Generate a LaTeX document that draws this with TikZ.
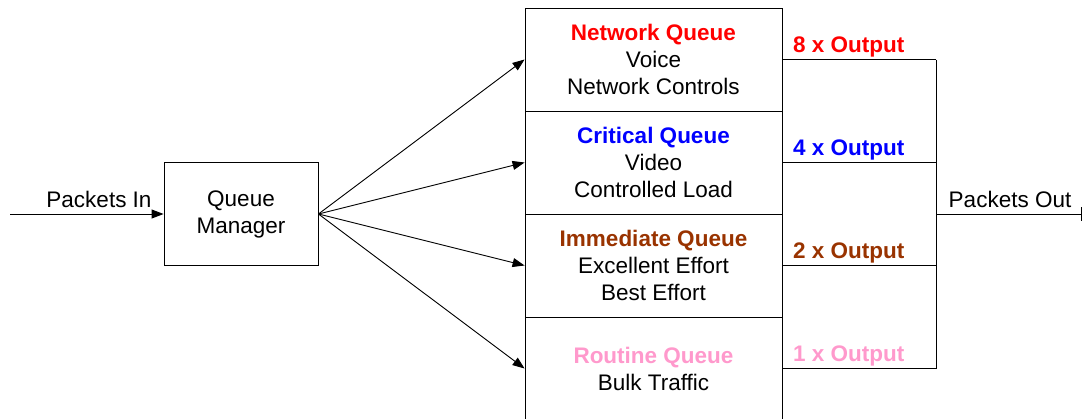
\documentclass[tikz,border=0pt]{standalone}
\usepackage{fontspec}
\setmainfont{Liberation Sans}
\usetikzlibrary{arrows.meta}
\definecolor{netred}{RGB}{255,0,0}
\definecolor{critblue}{RGB}{0,0,255}
\definecolor{immbrown}{RGB}{153,51,0}
\definecolor{routpink}{RGB}{255,153,204}
\begin{document}
\begin{tikzpicture}[x=1pt,y=-1pt,
  every node/.style={font=\fontsize{22.5}{27}\selectfont, inner sep=0pt},
  qbox/.style={draw, line width=0.9pt, minimum width=257pt, minimum height=103pt, align=center},
  mgrbox/.style={draw, line width=0.9pt, minimum width=154pt, minimum height=103.5pt, align=center},
  conn/.style={line width=0.9pt},
  arr/.style={conn, -{Triangle[length=12pt,width=9pt]}},
  outlbl/.style={anchor=base west, font=\fontsize{22.5}{27}\selectfont\bfseries},
  plainlbl/.style={anchor=base}
]
\clip (0,0) rectangle (1083,418);
% queue manager
\node[mgrbox] (qm) at (241,214) {Queue\\Manager};
% queues
\node[qbox] (q1) at (653.5,59.5) {\textcolor{netred}{\bfseries Network Queue}\\Voice\\Network Controls};
\node[qbox] (q2) at (653.5,162.5) {\textcolor{critblue}{\bfseries Critical Queue}\\Video\\Controlled Load};
\node[qbox] (q3) at (653.5,265.5) {\textcolor{immbrown}{\bfseries Immediate Queue}\\Excellent Effort\\Best Effort};
\node[qbox] (q4) at (653.5,368.5) {\textcolor{routpink}{\bfseries Routine Queue}\\Bulk Traffic};
% input
\coordinate (pin) at (10,214);
\draw[arr] (pin) -- (qm.west);
\node[plainlbl] (lin) at (99,207) {Packets In};
% distribution
\draw[arr] (qm.east) -- (q1.west);
\draw[arr] (qm.east) -- (q2.west);
\draw[arr] (qm.east) -- (q3.west);
\draw[arr] (qm.east) -- (q4.west);
% outputs
\coordinate (o1) at (936,59.5);
\coordinate (o2) at (936,162.5);
\coordinate (o3) at (936,265.5);
\coordinate (o4) at (936,368.5);
\coordinate (oj) at (936,214);
\coordinate (pout) at (1082,214);
\draw[conn] (q1.east) -- (o1);
\draw[conn] (q2.east) -- (o2);
\draw[conn] (q3.east) -- (o3);
\draw[conn] (q4.east) -- (o4);
\draw[conn] (o1) -- (o4);
\draw[conn, -{Bar[width=14pt]}] (oj) -- (pout);
\node[plainlbl] (lout) at (1010,207) {Packets Out};
% output labels
\node[outlbl, text=netred] (l1) at (793,52.5) {8 x Output};
\node[outlbl, text=critblue] (l2) at (793,155.5) {4 x Output};
\node[outlbl, text=immbrown] (l3) at (793,258.5) {2 x Output};
\node[outlbl, text=routpink] (l4) at (793,361.5) {1 x Output};
\end{tikzpicture}
\end{document}
